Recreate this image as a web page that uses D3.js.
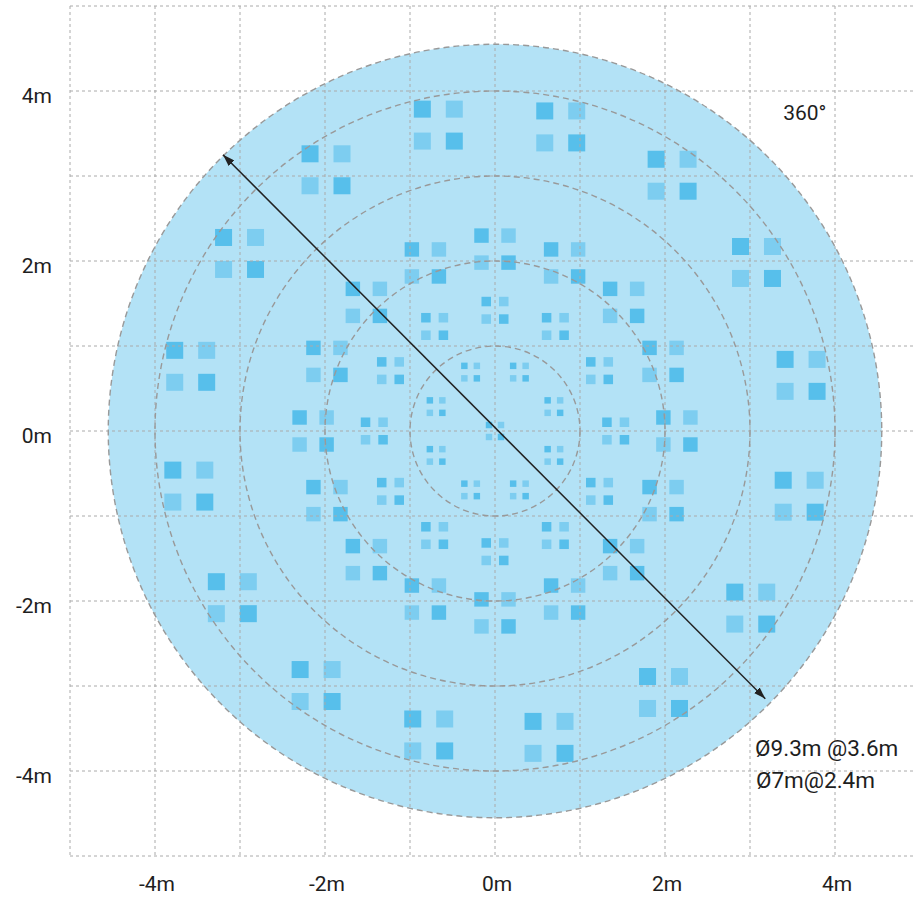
<!DOCTYPE html>
<html>
<head>
<meta charset="utf-8">
<script src="https://cdn.jsdelivr.net/npm/d3@7"></script>
<style>
  body { margin: 0; background: #fff; }
  text { font-family: Roboto, "Noto Sans", sans-serif; fill: #1e1e1e; }
</style>
</head>
<body>
<script>
// grid + axis
var gridSteps = [-5, -4, -3, -2, -1, 0, 1, 2, 3, 4, 5];
var axisTicks = [-4, -2, 0, 2, 4];

// coverage circle and the dashed distance rings (metres)
var coverageRadius = 4.55;
var distanceRings = [1, 2, 3, 4];

// emitter clusters: ring radius (m) and the angle (deg) of every cluster on it
var clusterRadius = [3.66, 2.14, 1.42, 0.75, 0];
var outerAngles = [10.3, 32.8, 55.3, 77.8, 100.5, 122.9, 145.2, 168, 190.2, 212.4, 234.9, 257.7, 280, 302.8, 325.3, 347.9];
var secondAngles = [0, 22.5, 45, 67.5, 90, 112.5, 135, 157.5, 180, 202.5, 225, 247.5, 270, 292.5, 315, 337.5];
var thirdAngles = [0, 30, 60, 90, 120, 150, 180, 210, 240, 270, 300, 330];
var innerAngles = [22.5, 67.5, 112.5, 157.5, 202.5, 247.5, 292.5, 337.5];
var centreAngles = [0];
var clusterAngles = [outerAngles, secondAngles, thirdAngles, innerAngles, centreAngles];
// footprint of one cell and the pitch between cells in a 2x2 cluster (m)
var cellSize = [0.2, 0.17, 0.112, 0.076, 0.076];
var cellPitch = [0.376, 0.318, 0.206, 0.147, 0.141];

// diameter arrow and notes
var arrowFrom = [-3.2, 3.25];
var arrowTo = [3.18, -3.15];
var notes = [
  { text: "360°", x: 3.39, y: 3.74 },
  { text: "Ø9.3m @3.6m", x: 3.06, y: -3.73 },
  { text: "Ø7m@2.4m", x: 3.07, y: -4.11 }
];

var chart = {
  width: 913,
  height: 898,
  x: null,
  y: null,

  setup: function() {
    this.svg = d3.select("body").append("svg")
      .attr("width", this.width)
      .attr("height", this.height);

    this.x = d3.scaleLinear().domain([-5, 5]).range([70, 920]);
    this.y = d3.scaleLinear().domain([-5, 5]).range([856, 6]);
  },

  drawCoverage: function() {
    var x = this.x, y = this.y;
    this.svg.append("circle")
      .attr("cx", x(0))
      .attr("cy", y(0))
      .attr("r", x(coverageRadius) - x(0))
      .style("fill", "#b3e2f6");
  },

  drawClusters: function() {
    var x = this.x, y = this.y;
    var cells = [];
    clusterAngles.forEach(function(angles, ring) {
      angles.forEach(function(a) {
        var rad = a * Math.PI / 180;
        var cx = clusterRadius[ring] * Math.cos(rad);
        var cy = clusterRadius[ring] * Math.sin(rad);
        var h = cellPitch[ring] / 2;
        // tl + br dark, tr + bl light
        [[-1, 1, true], [1, 1, false], [-1, -1, false], [1, -1, true]].forEach(function(c) {
          cells.push({ x: cx + c[0] * h, y: cy + c[1] * h, s: cellSize[ring], dark: c[2] });
        });
      });
    });

    this.svg.append("g").selectAll("rect")
      .data(cells)
      .enter().append("rect")
      .attr("x", d => x(d.x - d.s / 2))
      .attr("y", d => y(d.y + d.s / 2))
      .attr("width", d => x(d.s) - x(0))
      .attr("height", d => x(d.s) - x(0))
      .style("fill", d => d.dark ? "#57bfeb" : "#7dcdf0");
  },

  drawGrid: function() {
    var x = this.x, y = this.y;
    var g = this.svg.append("g")
      .style("stroke", "#aaa")
      .style("stroke-width", 1)
      .style("stroke-dasharray", "3,3");

    g.selectAll(".vline").data(gridSteps).enter().append("line")
      .attr("class", "vline")
      .attr("x1", d => x(d)).attr("x2", d => x(d))
      .attr("y1", y(5)).attr("y2", y(-5));

    g.selectAll(".hline").data(gridSteps).enter().append("line")
      .attr("class", "hline")
      .attr("x1", x(-5)).attr("x2", x(5))
      .attr("y1", d => y(d)).attr("y2", d => y(d));
  },

  drawRings: function() {
    var x = this.x, y = this.y;
    this.svg.append("g").selectAll("circle")
      .data(distanceRings.concat([coverageRadius]))
      .enter().append("circle")
      .attr("cx", x(0))
      .attr("cy", y(0))
      .attr("r", d => x(d) - x(0))
      .style("fill", "none")
      .style("stroke", "#999")
      .style("stroke-width", 1.4)
      .style("stroke-dasharray", "6,4");
  },

  drawArrow: function() {
    var x = this.x, y = this.y;
    var defs = this.svg.append("defs");
    defs.append("marker")
      .attr("id", "head")
      .attr("viewBox", "0 0 12 8")
      .attr("refX", 12)
      .attr("refY", 4)
      .attr("markerWidth", 12)
      .attr("markerHeight", 8)
      .attr("markerUnits", "userSpaceOnUse")
      .attr("orient", "auto-start-reverse")
      .append("path")
      .attr("d", "M0,0 L12,4 L0,8 Z")
      .style("fill", "#222");

    this.svg.append("line")
      .attr("x1", x(arrowFrom[0])).attr("y1", y(arrowFrom[1]))
      .attr("x2", x(arrowTo[0])).attr("y2", y(arrowTo[1]))
      .style("stroke", "#222")
      .style("stroke-width", 1.5)
      .attr("marker-start", "url(#head)")
      .attr("marker-end", "url(#head)");
  },

  drawLabels: function() {
    var x = this.x, y = this.y;
    this.svg.append("g").selectAll("text")
      .data(axisTicks)
      .enter().append("text")
      .attr("x", d => x(d) + 2)
      .attr("y", 884)
      .attr("text-anchor", "middle")
      .attr("dominant-baseline", "central")
      .style("font-size", "21px")
      .text(d => d + "m");

    this.svg.append("g").selectAll("text")
      .data(axisTicks)
      .enter().append("text")
      .attr("x", 52)
      .attr("y", d => y(d) + 5)
      .attr("text-anchor", "end")
      .attr("dominant-baseline", "central")
      .style("font-size", "21px")
      .text(d => d + "m");

    // the two diameter notes are set a touch larger than "360°"
    this.svg.append("g").selectAll("text")
      .data(notes)
      .enter().append("text")
      .attr("x", d => x(d.x))
      .attr("y", d => y(d.y))
      .attr("dominant-baseline", "central")
      .style("font-size", (d, i) => i === 0 ? "21px" : "22.5px")
      .text(d => d.text);
  },

  init: function() {
    this.setup();
    this.drawCoverage();
    this.drawClusters();
    this.drawGrid();
    this.drawRings();
    this.drawArrow();
    this.drawLabels();
  }
};

chart.init();
</script>
</body>
</html>
